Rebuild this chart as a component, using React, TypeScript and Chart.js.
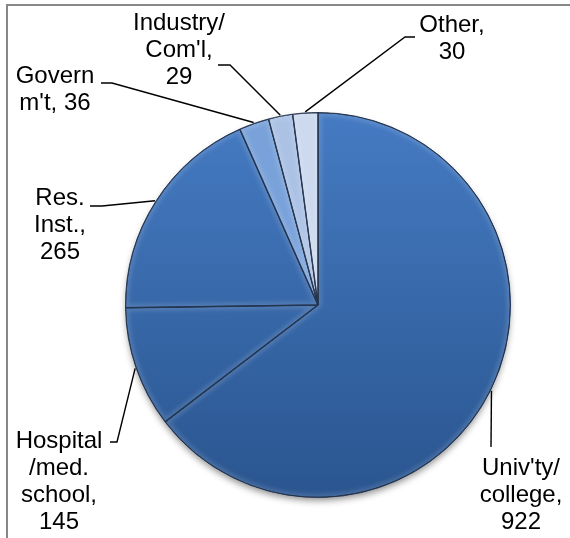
import React, { useEffect, useRef } from "react";
import { Chart, registerables } from "chart.js";
Chart.register(...registerables);

// ---- data ----
const categories = ["Univ'ty/college", "Hospital/med. school", "Res. Inst.", "Govern m't", "Industry/Com'l", "Other"];
const values = [922, 145, 265, 36, 29, 30];
const labelLines = [["Univ'ty/", "college,"], ["Hospital", "/med.", "school,"], ["Res.", "Inst.,"], ["Govern", "m't,"], ["Industry/", "Com'l,"], ["Other,"]];
const valueOnOwnLine = [true, true, true, false, true, true];

// ---- styles / layout ----
const sliceTop = ["#457BC3", "#457BC3", "#457BC3", "#79A2DA", "#ABC2E5", "#CCD9EE"];
const sliceBottom = ["#2A558F", "#2A558F", "#2A558F", "#79A2DA", "#ABC2E5", "#CCD9EE"];
const labelAnchors = [
  { x: 521, y: 468 },
  { x: 59, y: 441 },
  { x: 60, y: 198 },
  { x: 55, y: 76 },
  { x: 179, y: 23 },
  { x: 452, y: 25 },
];
const leaderStarts = [
  [[491, 447]],
  [[110, 442], [117, 442]],
  [[90, 206], [102, 206]],
  [[101, 83], [112, 83]],
  [[218, 65], [230, 65]],
  [[415, 37], [405, 37]],
];
const FONT = "24px 'Liberation Sans', Arial, sans-serif";
const LINE_H = 27;

const shadowPlugin = {
  id: "pieShadow",
  beforeDatasetsDraw(chart: any) {
    const meta = chart.getDatasetMeta(0);
    const a = meta.data[0];
    if (!a) return;
    const ctx = chart.ctx;
    ctx.save();
    ctx.beginPath();
    ctx.arc(a.x, a.y, a.outerRadius - 1, 0, Math.PI * 2);
    ctx.fillStyle = "#2A5690";
    ctx.shadowColor = "rgba(0,0,0,0.45)";
    ctx.shadowBlur = 7;
    ctx.shadowOffsetY = 4;
    ctx.fill();
    ctx.restore();
  },
};

const bevelPlugin = {
  id: "pieBevel",
  afterDatasetsDraw(chart: any) {
    const meta = chart.getDatasetMeta(0);
    const ctx = chart.ctx;
    meta.data.forEach((a: any) => {
      ctx.save();
      ctx.beginPath();
      ctx.moveTo(a.x, a.y);
      ctx.arc(a.x, a.y, a.outerRadius, a.startAngle, a.endAngle);
      ctx.closePath();
      ctx.clip();
      ctx.filter = "blur(2px)";
      ctx.lineWidth = 7;
      ctx.strokeStyle = "rgba(255,255,255,0.14)";
      ctx.stroke();
      ctx.filter = "none";
      ctx.lineWidth = 1.4;
      ctx.strokeStyle = "rgba(25,40,65,0.85)";
      ctx.stroke();
      ctx.restore();
    });
  },
};

const labelPlugin = {
  id: "pieLabels",
  afterDraw(chart: any) {
    const meta = chart.getDatasetMeta(0);
    const ctx = chart.ctx;
    ctx.save();
    ctx.strokeStyle = "#000";
    ctx.lineWidth = 1.4;
    meta.data.forEach((a: any, i: number) => {
      const mid = (a.startAngle + a.endAngle) / 2;
      const ex = a.x + (a.outerRadius + 1) * Math.cos(mid);
      const ey = a.y + (a.outerRadius + 1) * Math.sin(mid);
      const pts = leaderStarts[i];
      ctx.beginPath();
      ctx.moveTo(pts[0][0], pts[0][1]);
      for (let k = 1; k < pts.length; k++) ctx.lineTo(pts[k][0], pts[k][1]);
      ctx.lineTo(ex, ey);
      ctx.stroke();
    });
    ctx.fillStyle = "#000";
    ctx.font = FONT;
    ctx.textAlign = "center";
    ctx.textBaseline = "middle";
    categories.forEach((_, i) => {
      const lines = labelLines[i].slice();
      const v = String(values[i]);
      if (valueOnOwnLine[i]) lines.push(v);
      else lines[lines.length - 1] = lines[lines.length - 1] + " " + v;
      const an = labelAnchors[i];
      lines.forEach((t, k) => ctx.fillText(t, an.x, an.y + k * LINE_H));
    });
    ctx.restore();
  },
};

export default function App() {
  const ref = useRef<HTMLCanvasElement | null>(null);
  useEffect(() => {
    if (!ref.current) return;
    const chart = new Chart(ref.current, {
      type: "pie",
      data: {
        labels: categories,
        datasets: [
          {
            data: values,
            backgroundColor: (c: any) => {
              const ch = c.chart;
              const i = c.dataIndex ?? 0;
              const area = ch.chartArea;
              if (!area) return sliceTop[i];
              const g = ch.ctx.createLinearGradient(0, area.top, 0, area.bottom);
              g.addColorStop(0, sliceTop[i]);
              g.addColorStop(1, sliceBottom[i]);
              return g;
            },
            borderColor: "rgba(25,40,65,0.85)",
            borderWidth: 1,
          },
        ],
      },
      options: {
        responsive: false,
        animation: false,
        layout: { padding: { left: 125, right: 59, top: 112, bottom: 40 } },
        plugins: { legend: { display: false }, tooltip: { enabled: false } },
      },
      plugins: [shadowPlugin, bevelPlugin, labelPlugin],
    });
    return () => chart.destroy();
  }, []);
  return (
    <div style={{ position: "fixed", left: 0, top: 0, width: 570, height: 538, background: "#fff", overflow: "hidden" }}>
      <canvas ref={ref} width={570} height={538} style={{ display: "block", width: 570, height: 538 }} />
      <div
        style={{
          position: "absolute",
          left: 6,
          top: 4,
          width: 600,
          height: 600,
          borderLeft: "2px solid #878787",
          borderTop: "2px solid #878787",
          pointerEvents: "none",
        }}
      />
    </div>
  );
}
